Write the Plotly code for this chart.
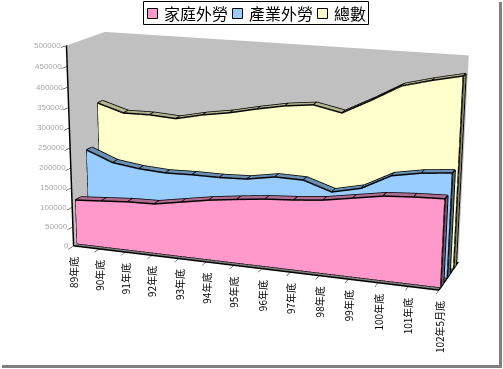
import plotly.graph_objects as go

categories = ["89年底","90年底","91年底","92年底","93年底","94年底","95年底","96年底","97年底","98年底","99年底","100年底","101年底","102年5月底"]
home = [113000,118000,123000,125000,137000,149000,158000,166000,171000,178000,190000,202000,207000,210000]
industry = [224000,198000,189000,185000,187000,187000,190000,202000,201000,179000,195000,232000,245000,252000]
total = [329000,309000,310000,306000,321000,332000,347000,360000,368000,354000,390000,429000,447000,462000]
value_ticks = [0,50000,100000,150000,200000,250000,300000,350000,400000,450000,500000]
names = ["家庭外勞","產業外勞","總數"]
front_cols = ["#FF99CC","#99CCFF","#FFFFCC"]
top_cols = ["#B06B90","#6B8FB3","#B3B38F"]
side_cols = ["#80506A","#4F6B85","#85856A"]
depth = [(0.09,0.23),(0.42,0.56),(0.75,0.89)]

# Plotly's 3-D camera has a fixed 45 degree field of view, so the scene is made larger
# than the window and the page is offset to get the reference's narrow lens.
SIZE = 1160
LEFT, TOP = 239 - SIZE // 2, 231 - SIZE // 2
fx = lambda px: (px - LEFT) / SIZE
fy = lambda py: 1 - (py - TOP) / SIZE

fig = go.Figure()
n = len(categories)
for vals, (y0,y1), c, t, s in zip([home,industry,total], depth, front_cols, top_cols, side_cols):
    xs=[];ys=[];zs=[];I=[];J=[];K=[];fc=[]
    for i,v in enumerate(vals):
        xs += [i,i,i,i]; ys += [y0,y0,y1,y1]; zs += [0,v,v,0]
    def quad(a,b,c_,d,col):
        I.extend([a,a]);J.extend([b,c_]);K.extend([c_,d]);fc.extend([col,col])
    for i in range(n-1):
        a=4*i;b=4*(i+1)
        quad(a,a+1,b+1,b,c)
        quad(a+1,a+2,b+2,b+1,t)
    e=4*(n-1)
    quad(e,e+1,e+2,e+3,s)
    quad(0,1,2,3,s)
    fig.add_trace(go.Mesh3d(x=xs,y=ys,z=zs,i=I,j=J,k=K,facecolor=fc,flatshading=True,
        lighting=dict(ambient=1,diffuse=0,specular=0,fresnel=0,roughness=1),hoverinfo="skip",showlegend=False,showscale=False))
    ex=[];ey=[];ez=[]
    def seg(pts):
        for p in pts:
            ex.append(p[0]);ey.append(p[1]);ez.append(p[2])
        ex.append(None);ey.append(None);ez.append(None)
    seg([(0,y0,0),(0,y0,vals[0])]+[(i,y0,vals[i]) for i in range(1,n)]+[(n-1,y0,0),(0,y0,0)])
    seg([(i,y1,vals[i]) for i in range(n)])
    for i in range(n):
        seg([(i,y0,vals[i]),(i,y1,vals[i])])
    seg([(n-1,y1,vals[-1]),(n-1,y1,0),(n-1,y0,0)])
    fig.add_trace(go.Scatter3d(x=ex,y=ey,z=ez,mode="lines",line=dict(color="black",width=3),hoverinfo="skip",showlegend=False))

annots=[dict(x=i,y=0,z=0,text=c,textangle=-90,showarrow=False,xanchor="center",yanchor="top",yshift=-9,
        font=dict(size=10,color="black",family="Noto Sans CJK TC")) for i,c in enumerate(categories)]
annots+=[dict(x=0,y=0,z=v,text=str(v),showarrow=False,xanchor="right",yanchor="middle",xshift=-3,
        font=dict(size=8,color="#A8A8A8",family="Liberation Sans")) for v in value_ticks]

shapes=[dict(type="rect",xref="paper",yref="paper",x0=fx(143.5),x1=fx(368.5),y0=fy(24.5),y1=fy(1.5),line=dict(color="black",width=1),fillcolor="white")]
paper=[]
for nm,c,sx,tx in zip(names,front_cols,[147,232,317],[162,247,332]):
    shapes.append(dict(type="rect",xref="paper",yref="paper",x0=fx(sx+.5),x1=fx(sx+10.5),y0=fy(18.5),y1=fy(8.5),line=dict(color="black",width=1),fillcolor=c))
    paper.append(dict(xref="paper",yref="paper",x=fx(tx),y=fy(13),text=nm,showarrow=False,xanchor="left",yanchor="middle",
        font=dict(size=16,color="black",family="Noto Sans CJK TC")))
shapes.append(dict(type="line",xref="paper",yref="paper",x0=fx(500.5),x1=fx(500.5),y0=fy(367),y1=fy(2),line=dict(color="#808080",width=3)))
shapes.append(dict(type="line",xref="paper",yref="paper",x0=fx(2),x1=fx(502),y0=fy(366.5),y1=fy(366.5),line=dict(color="#808080",width=3)))

blank=dict(showgrid=False,zeroline=False,showspikes=False,title=dict(text=" "))
fig.update_layout(
    template="none",
    width=SIZE,height=SIZE,autosize=False,margin=dict(l=0,r=0,t=0,b=0),paper_bgcolor="white",plot_bgcolor="white",
    showlegend=False,
    scene=dict(
        domain=dict(x=[0,1],y=[0,1]),bgcolor="white",
        aspectmode="manual",aspectratio=dict(x=1,y=0.2289,z=0.5434),
        camera=dict(eye=dict(x=1.1611,y=-3.3271,z=0.9003),center=dict(x=-0.0253,y=-0.1128,z=-0.1778),
                    up=dict(x=0.0403,y=-0.1135,z=1),projection=dict(type="perspective")),
        xaxis=dict(range=[0,n-1],dtick=1,showticklabels=False,ticks="outside",ticklen=3,tickcolor="black",showline=True,linecolor="black",linewidth=3,showbackground=True,backgroundcolor="#C0C0C0",**blank),
        yaxis=dict(range=[0,1],showticklabels=False,ticks="",showline=True,linecolor="black",linewidth=3,showbackground=True,backgroundcolor="#C0C0C0",**blank),
        zaxis=dict(range=[0,500000],dtick=50000,showticklabels=False,ticks="outside",ticklen=3,tickcolor="black",
                   showline=True,linecolor="black",linewidth=3,showbackground=True,backgroundcolor="#808080",**blank),
        annotations=annots,
    ),
    shapes=shapes,annotations=paper,
)
post=("document.documentElement.style.overflow='hidden';document.body.style.margin='0';document.body.style.overflow='hidden';"
      "var g=document.querySelector('.plotly-graph-div');g.style.position='absolute';g.style.left='%dpx';g.style.top='%dpx';"%(LEFT,TOP))
fig.write_html("out.html",config=dict(displayModeBar=False),post_script=post)
